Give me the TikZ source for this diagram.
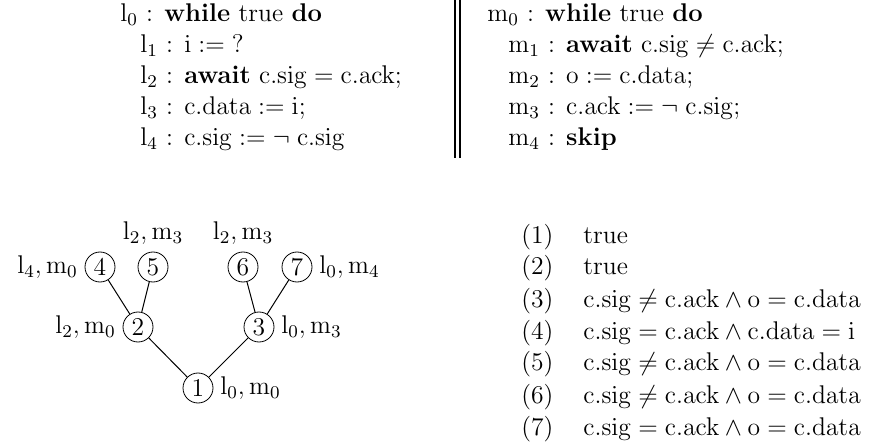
\RequirePackage{fix-cm}
\documentclass[tikz,border=0pt]{standalone}
\usepackage{amsmath}
\usepackage{amssymb}
\usepackage{tikz}
\usetikzlibrary{positioning}
\tikzstyle{code} = [anchor=base west, inner sep=0pt]
\tikzstyle{state} = [circle, draw, inner sep=0pt, minimum size=15pt]
\tikzstyle{edge} = [line width=0.5pt]
\newcommand{\pc}[2]{$\mathrm{#1}_{#2}$}

\begin{document}
\begin{tikzpicture}[x=0.5pt, y=-0.5pt, font=\fontsize{12.8}{16}\selectfont]
    \useasboundingbox (0,0) rectangle (885,444);

    % Left process
    \node[code] (l0) at (120, 22) {\pc{l}{0} : \textbf{while} true \textbf{do}};
    \node[code] (l1) at (140, 53) {\pc{l}{1} : $\mathrm{i} := \mathrm{?}$};
    \node[code] (l2) at (140, 84) {\pc{l}{2} : \textbf{await} $\mathrm{c.sig} = \mathrm{c.ack}$;};
    \node[code] (l3) at (140, 115) {\pc{l}{3} : $\mathrm{c.data} := \mathrm{i}$;};
    \node[code] (l4) at (140, 146) {\pc{l}{4} : $\mathrm{c.sig} := \neg\;\mathrm{c.sig}$};

    % Separator
    \draw[line width=0.8pt] (455,0) -- (455,158);
    \draw[line width=0.8pt] (460,0) -- (460,158);

    % Right process
    \node[code] (m0) at (487, 22) {\pc{m}{0} : \textbf{while} true \textbf{do}};
    \node[code] (m1) at (508, 53) {\pc{m}{1} : \textbf{await} $\mathrm{c.sig} \neq \mathrm{c.ack}$;};
    \node[code] (m2) at (508, 84) {\pc{m}{2} : $\mathrm{o} := \mathrm{c.data}$;};
    \node[code] (m3) at (508, 115) {\pc{m}{3} : $\mathrm{c.ack} := \neg\;\mathrm{c.sig}$;};
    \node[code] (m4) at (508, 146) {\pc{m}{4} : \textbf{skip}};

    % Tree
    \node[state, label={right:$\mathrm{l}_0, \mathrm{m}_0$}] (n1) at (198, 388) {1};
    \node[state, label={left:$\mathrm{l}_2, \mathrm{m}_0$}] (n2) at (138, 327) {2};
    \node[state, label={right:$\mathrm{l}_0, \mathrm{m}_3$}] (n3) at (259, 327) {3};
    \node[state, label={left:$\mathrm{l}_4, \mathrm{m}_0$}] (n4) at (100, 267) {4};
    \node[state, label={above:$\mathrm{l}_2, \mathrm{m}_3$}] (n5) at (153, 267) {5};
    \node[state, label={above:$\mathrm{l}_2, \mathrm{m}_3$}] (n6) at (243, 267) {6};
    \node[state, label={right:$\mathrm{l}_0, \mathrm{m}_4$}] (n7) at (297, 267) {7};
    \draw[edge] (n1) -- (n2);
    \draw[edge] (n1) -- (n3);
    \draw[edge] (n2) -- (n4);
    \draw[edge] (n2) -- (n5);
    \draw[edge] (n3) -- (n6);
    \draw[edge] (n3) -- (n7);

    % Invariants
    \node[code] (k1) at (521, 243) {(1)};
    \node[code] (k2) at (521, 275) {(2)};
    \node[code] (k3) at (521, 307) {(3)};
    \node[code] (k4) at (521, 339) {(4)};
    \node[code] (k5) at (521, 371) {(5)};
    \node[code] (k6) at (521, 403) {(6)};
    \node[code] (k7) at (521, 435) {(7)};
    \node[code] (f1) at (583, 243) {true};
    \node[code] (f2) at (583, 275) {true};
    \node[code] (f3) at (583, 307) {$\mathrm{c.sig} \neq \mathrm{c.ack} \wedge \mathrm{o} = \mathrm{c.data}$};
    \node[code] (f4) at (583, 339) {$\mathrm{c.sig} = \mathrm{c.ack} \wedge \mathrm{c.data} = \mathrm{i}$};
    \node[code] (f5) at (583, 371) {$\mathrm{c.sig} \neq \mathrm{c.ack} \wedge \mathrm{o} = \mathrm{c.data}$};
    \node[code] (f6) at (583, 403) {$\mathrm{c.sig} \neq \mathrm{c.ack} \wedge \mathrm{o} = \mathrm{c.data}$};
    \node[code] (f7) at (583, 435) {$\mathrm{c.sig} = \mathrm{c.ack} \wedge \mathrm{o} = \mathrm{c.data}$};
\end{tikzpicture}
\end{document}
